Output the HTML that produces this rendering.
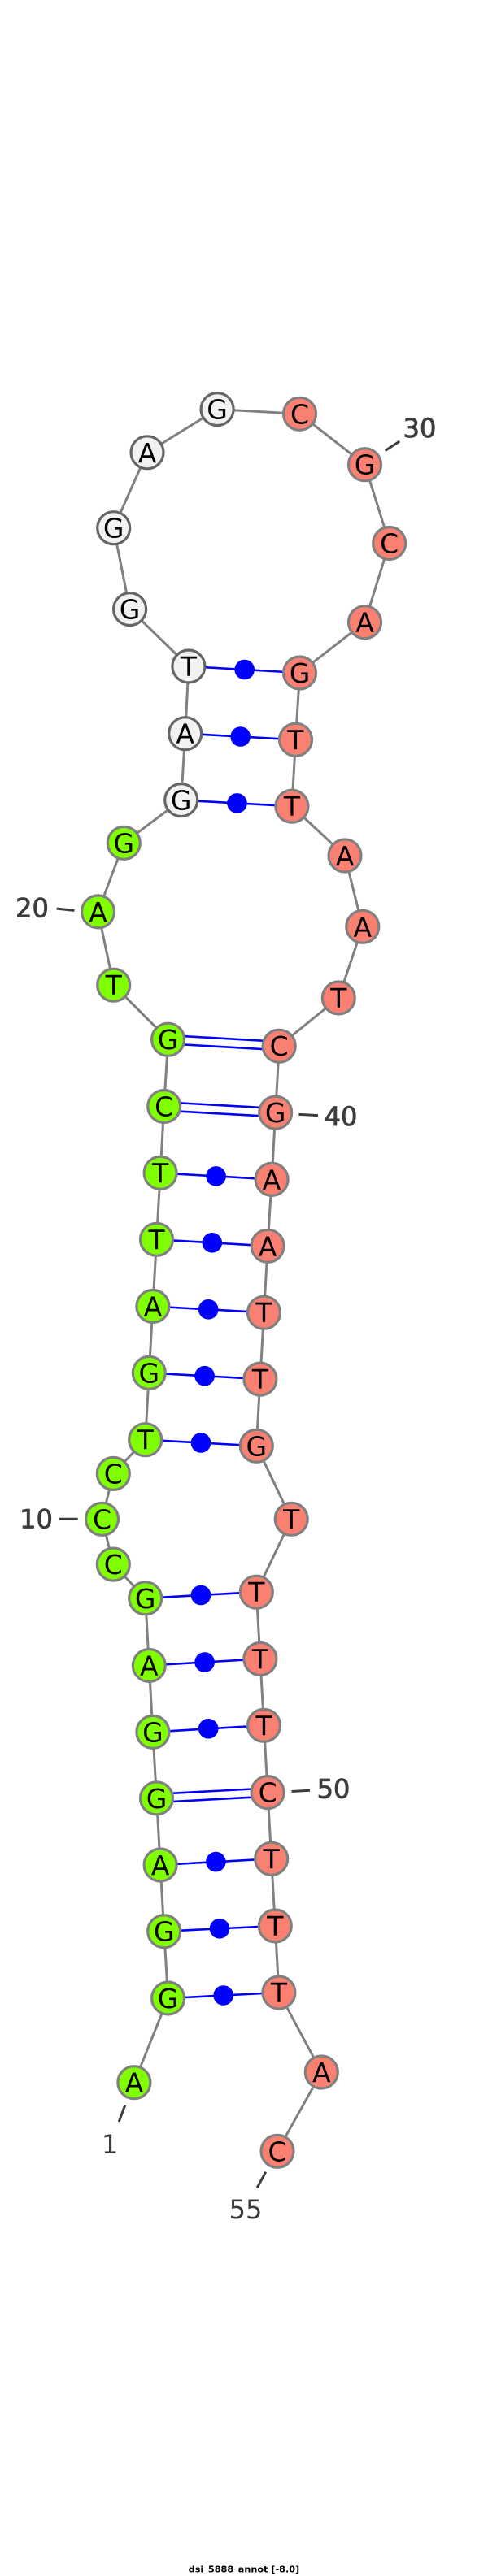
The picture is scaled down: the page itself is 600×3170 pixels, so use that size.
<!DOCTYPE html>
<html>
<head>
<meta charset="utf-8">
<style>
html,body{margin:0;padding:0;background:#fff;width:600px;height:3170px;overflow:hidden}
svg{display:block}
.n{font-family:"DejaVu Sans",sans-serif;font-size:33px;fill:#000;text-anchor:middle}
.l{font-family:"DejaVu Sans",sans-serif;font-size:32px;fill:#3c3c3c;text-anchor:middle}
.b{stroke:#3c3c3c;stroke-width:.8}
.g circle{fill:#7fff00;stroke:#808080;stroke-width:3.2}
.r circle{fill:#fa8072;stroke:#808080;stroke-width:3.2}
.w circle{fill:#f2f2f2;stroke:#666;stroke-width:3.2}
</style>
</head>
<body>
<svg width="600" height="3170" viewBox="0 0 600 3170" xmlns="http://www.w3.org/2000/svg">
<polyline fill="none" stroke="#808080" stroke-width="3" points="164.9,2562.7 206.6,2459 201.7,2376.7 197.1,2295 192.5,2212.9 187.9,2131.4 183.3,2049.5 178.7,1966.8 139.3,1925.1 125.5,1869.3 139.3,1813.4 178.7,1771.7 183.3,1689.4 187.9,1607.5 192.5,1525.3 197.1,1443.4 201.7,1361.5 206.6,1279.2 139.7,1212.2 120.5,1121.9 152.3,1037.4 222.7,984.6 227.7,902.7 231.9,820 159.6,749.6 139.7,649.7 181,556.8 267.1,503.6 368.5,509.3 448.5,571.7 478.7,668.5 448.5,765.7 368.5,828 363.5,910.3 358.9,992.2 424,1053 445.8,1140.3 416.3,1228 343.2,1287.2 338.7,1369.1 334.1,1451.4 329.1,1533.3 324.5,1615.2 319.9,1697.1 315.3,1779.3 358.2,1869.3 315.3,1959.2 319.9,2041.5 324.5,2123.3 329.1,2205.6 333.7,2287.3 338.3,2370 342.9,2452 395.3,2550 341,2647.3"/>
<g stroke="#0000ff" stroke-width="2.6" fill="none">
<line x1="231.9" y1="820" x2="368.5" y2="828"/>
<line x1="227.7" y1="902.7" x2="363.5" y2="910.3"/>
<line x1="222.7" y1="984.6" x2="358.9" y2="992.2"/>
<line x1="206.9" y1="1274" x2="343.5" y2="1281.9"/>
<line x1="206.3" y1="1284.3" x2="342.9" y2="1292.2"/>
<line x1="202" y1="1356.3" x2="339" y2="1363.9"/>
<line x1="201.4" y1="1366.6" x2="338.4" y2="1374.2"/>
<line x1="197.1" y1="1443.4" x2="334.1" y2="1451.4"/>
<line x1="192.5" y1="1525.3" x2="329.1" y2="1533.3"/>
<line x1="187.9" y1="1607.5" x2="324.5" y2="1615.2"/>
<line x1="183.3" y1="1689.4" x2="319.9" y2="1697.1"/>
<line x1="178.7" y1="1771.7" x2="315.3" y2="1779.3"/>
<line x1="178.7" y1="1966.8" x2="315.3" y2="1959.2"/>
<line x1="183.3" y1="2049.5" x2="319.9" y2="2041.5"/>
<line x1="187.9" y1="2131.4" x2="324.5" y2="2123.3"/>
<line x1="192.3" y1="2207.8" x2="328.9" y2="2200.5"/>
<line x1="192.7" y1="2218" x2="329.3" y2="2210.7"/>
<line x1="197.1" y1="2295" x2="333.7" y2="2287.3"/>
<line x1="201.7" y1="2376.7" x2="338.3" y2="2370"/>
<line x1="206.6" y1="2459" x2="342.9" y2="2452"/>
</g>
<g fill="#0000ff">
<circle cx="300.7" cy="824" r="12.3"/>
<circle cx="295.7" cy="906.5" r="12.3"/>
<circle cx="291.5" cy="988.4" r="12.3"/>
<circle cx="265.6" cy="1447.4" r="12.3"/>
<circle cx="260.8" cy="1529.3" r="12.3"/>
<circle cx="256.2" cy="1611.3" r="12.3"/>
<circle cx="251.6" cy="1693.2" r="12.3"/>
<circle cx="247" cy="1775.5" r="12.3"/>
<circle cx="247" cy="1963" r="12.3"/>
<circle cx="251.6" cy="2045.5" r="12.3"/>
<circle cx="256.2" cy="2127.3" r="12.3"/>
<circle cx="265.4" cy="2291.1" r="12.3"/>
<circle cx="270" cy="2373.3" r="12.3"/>
<circle cx="274.7" cy="2455.5" r="12.3"/>
</g>
<g stroke="#3c3c3c" stroke-width="3" fill="none">
<line x1="473.7" y1="554.5" x2="491.3" y2="543"/>
<line x1="69.6" y1="1118.1" x2="91.5" y2="1120.4"/>
<line x1="367.4" y1="1371.4" x2="391" y2="1372.6"/>
<line x1="73" y1="1869.3" x2="95.7" y2="1869.3"/>
<line x1="358.6" y1="2204.5" x2="381" y2="2203.3"/>
<line x1="153.8" y1="2590.7" x2="146.2" y2="2611"/>
<line x1="326.8" y1="2672.7" x2="316.1" y2="2692.3"/>
</g>
<g class="g">
<circle cx="164.9" cy="2562.7" r="20"/><text class="n" x="164.9" y="2574.7">A</text>
<circle cx="206.6" cy="2459" r="20"/><text class="n" x="206.6" y="2471">G</text>
<circle cx="201.7" cy="2376.7" r="20"/><text class="n" x="201.7" y="2388.7">G</text>
<circle cx="197.1" cy="2295" r="20"/><text class="n" x="197.1" y="2307">A</text>
<circle cx="192.5" cy="2212.9" r="20"/><text class="n" x="192.5" y="2224.9">G</text>
<circle cx="187.9" cy="2131.4" r="20"/><text class="n" x="187.9" y="2143.4">G</text>
<circle cx="183.3" cy="2049.5" r="20"/><text class="n" x="183.3" y="2061.5">A</text>
<circle cx="178.7" cy="1966.8" r="20"/><text class="n" x="178.7" y="1978.8">G</text>
<circle cx="139.3" cy="1925.1" r="20"/><text class="n" x="139.3" y="1937.1">C</text>
<circle cx="125.5" cy="1869.3" r="20"/><text class="n" x="125.5" y="1881.3">C</text>
<circle cx="139.3" cy="1813.4" r="20"/><text class="n" x="139.3" y="1825.4">C</text>
<circle cx="178.7" cy="1771.7" r="20"/><text class="n" x="178.7" y="1783.7">T</text>
<circle cx="183.3" cy="1689.4" r="20"/><text class="n" x="183.3" y="1701.4">G</text>
<circle cx="187.9" cy="1607.5" r="20"/><text class="n" x="187.9" y="1619.5">A</text>
<circle cx="192.5" cy="1525.3" r="20"/><text class="n" x="192.5" y="1537.3">T</text>
<circle cx="197.1" cy="1443.4" r="20"/><text class="n" x="197.1" y="1455.4">T</text>
<circle cx="201.7" cy="1361.5" r="20"/><text class="n" x="201.7" y="1373.5">C</text>
<circle cx="206.6" cy="1279.2" r="20"/><text class="n" x="206.6" y="1291.2">G</text>
<circle cx="139.7" cy="1212.2" r="20"/><text class="n" x="139.7" y="1224.2">T</text>
<circle cx="120.5" cy="1121.9" r="20"/><text class="n" x="120.5" y="1133.9">A</text>
<circle cx="152.3" cy="1037.4" r="20"/><text class="n" x="152.3" y="1049.4">G</text>
</g>
<g class="w">
<circle cx="222.7" cy="984.6" r="20"/><text class="n" x="222.7" y="996.6">G</text>
<circle cx="227.7" cy="902.7" r="20"/><text class="n" x="227.7" y="914.7">A</text>
<circle cx="231.9" cy="820" r="20"/><text class="n" x="231.9" y="832">T</text>
<circle cx="159.6" cy="749.6" r="20"/><text class="n" x="159.6" y="761.6">G</text>
<circle cx="139.7" cy="649.7" r="20"/><text class="n" x="139.7" y="661.7">G</text>
<circle cx="181" cy="556.8" r="20"/><text class="n" x="181" y="568.8">A</text>
<circle cx="267.1" cy="503.6" r="20"/><text class="n" x="267.1" y="515.6">G</text>
</g>
<g class="r">
<circle cx="368.5" cy="509.3" r="20"/><text class="n" x="368.5" y="521.3">C</text>
<circle cx="448.5" cy="571.7" r="20"/><text class="n" x="448.5" y="583.7">G</text>
<circle cx="478.7" cy="668.5" r="20"/><text class="n" x="478.7" y="680.5">C</text>
<circle cx="448.5" cy="765.7" r="20"/><text class="n" x="448.5" y="777.7">A</text>
<circle cx="368.5" cy="828" r="20"/><text class="n" x="368.5" y="840">G</text>
<circle cx="363.5" cy="910.3" r="20"/><text class="n" x="363.5" y="922.3">T</text>
<circle cx="358.9" cy="992.2" r="20"/><text class="n" x="358.9" y="1004.2">T</text>
<circle cx="424" cy="1053" r="20"/><text class="n" x="424" y="1065">A</text>
<circle cx="445.8" cy="1140.3" r="20"/><text class="n" x="445.8" y="1152.3">A</text>
<circle cx="416.3" cy="1228" r="20"/><text class="n" x="416.3" y="1240">T</text>
<circle cx="343.2" cy="1287.2" r="20"/><text class="n" x="343.2" y="1299.2">C</text>
<circle cx="338.7" cy="1369.1" r="20"/><text class="n" x="338.7" y="1381.1">G</text>
<circle cx="334.1" cy="1451.4" r="20"/><text class="n" x="334.1" y="1463.4">A</text>
<circle cx="329.1" cy="1533.3" r="20"/><text class="n" x="329.1" y="1545.3">A</text>
<circle cx="324.5" cy="1615.2" r="20"/><text class="n" x="324.5" y="1627.2">T</text>
<circle cx="319.9" cy="1697.1" r="20"/><text class="n" x="319.9" y="1709.1">T</text>
<circle cx="315.3" cy="1779.3" r="20"/><text class="n" x="315.3" y="1791.3">G</text>
<circle cx="358.2" cy="1869.3" r="20"/><text class="n" x="358.2" y="1881.3">T</text>
<circle cx="315.3" cy="1959.2" r="20"/><text class="n" x="315.3" y="1971.2">T</text>
<circle cx="319.9" cy="2041.5" r="20"/><text class="n" x="319.9" y="2053.5">T</text>
<circle cx="324.5" cy="2123.3" r="20"/><text class="n" x="324.5" y="2135.3">T</text>
<circle cx="329.1" cy="2205.6" r="20"/><text class="n" x="329.1" y="2217.6">C</text>
<circle cx="333.7" cy="2287.3" r="20"/><text class="n" x="333.7" y="2299.3">T</text>
<circle cx="338.3" cy="2370" r="20"/><text class="n" x="338.3" y="2382">T</text>
<circle cx="342.9" cy="2452" r="20"/><text class="n" x="342.9" y="2464">T</text>
<circle cx="395.3" cy="2550" r="20"/><text class="n" x="395.3" y="2562">A</text>
<circle cx="341" cy="2647.3" r="20"/><text class="n" x="341" y="2659.3">C</text>
</g>
<text class="l b" x="516" y="538">30</text>
<text class="l b" x="39.5" y="1128.4">20</text>
<text class="l b" x="419" y="1385.2">40</text>
<text class="l b" x="44.5" y="1880.7">10</text>
<text class="l b" x="410" y="2212.5">50</text>
<text class="l" x="135" y="2650">1</text>
<text class="l" x="302" y="2730">55</text>
<text x="231.7" y="3165.5" font-family="'DejaVu Sans',sans-serif" font-weight="bold" font-size="10.5" fill="#000" textLength="136.5" lengthAdjust="spacingAndGlyphs">dsi_5888_annot [-8.0]</text>
</svg>
</body>
</html>
